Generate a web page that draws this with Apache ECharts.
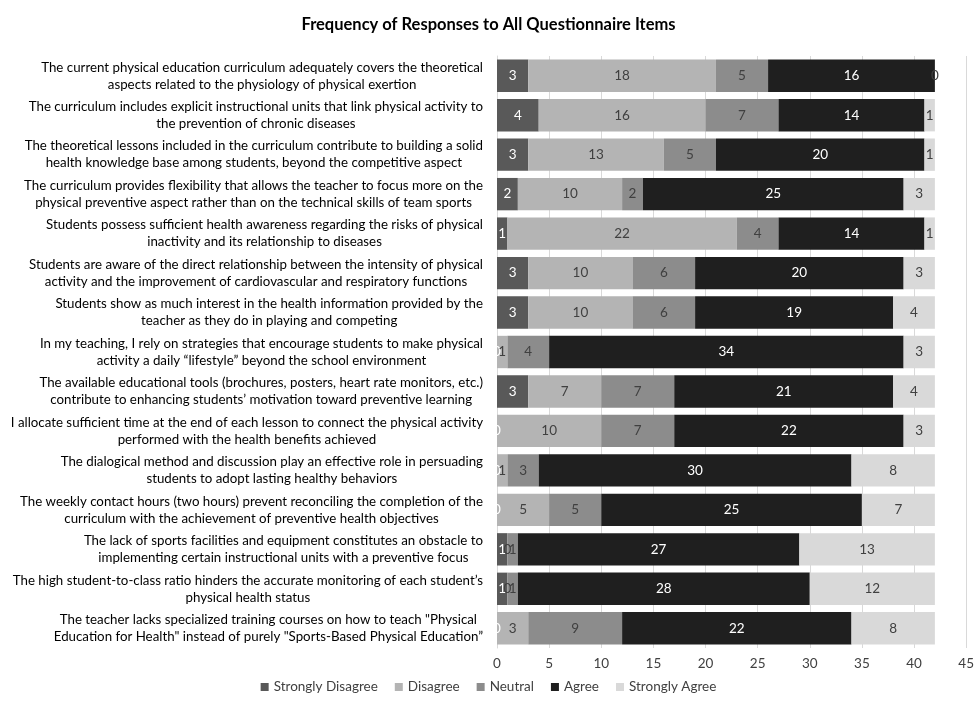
<!DOCTYPE html>
<html>
<head>
<meta charset="utf-8">
<script src="https://cdn.jsdelivr.net/npm/echarts@6/dist/echarts.min.js"></script>
<style>
  html, body { margin: 0; padding: 0; background: #fff; }
  #chart { width: 977px; height: 707px; }
</style>
</head>
<body>
<div id="chart"></div>
<script>
// questionnaire items (top to bottom)
var items = [
  'The current physical education curriculum adequately covers the theoretical\naspects related to the physiology of physical exertion',
  'The curriculum includes explicit instructional units that link physical activity to\nthe prevention of chronic diseases',
  'The theoretical lessons included in the curriculum contribute to building a solid\nhealth knowledge base among students, beyond the competitive aspect',
  'The curriculum provides flexibility that allows the teacher to focus more on the\nphysical preventive aspect rather than on the technical skills of team sports',
  'Students possess sufficient health awareness regarding the risks of physical\ninactivity and its relationship to diseases',
  'Students are aware of the direct relationship between the intensity of physical\nactivity and the improvement of cardiovascular and respiratory functions',
  'Students show as much interest in the health information provided by the\nteacher as they do in playing and competing',
  'In my teaching, I rely on strategies that encourage students to make physical\nactivity a daily \u201clifestyle\u201d beyond the school environment',
  'The available educational tools (brochures, posters, heart rate monitors, etc.)\ncontribute to enhancing students\u2019 motivation toward preventive learning',
  'I allocate sufficient time at the end of each lesson to connect the physical activity\nperformed with the health benefits achieved',
  'The dialogical method and discussion play an effective role in persuading\nstudents to adopt lasting healthy behaviors',
  'The weekly contact hours (two hours) prevent reconciling the completion of the\ncurriculum with the achievement of preventive health objectives',
  'The lack of sports facilities and equipment constitutes an obstacle to\nimplementing certain instructional units with a preventive focus',
  'The high student-to-class ratio hinders the accurate monitoring of each student\u2019s\nphysical health status',
  'The teacher lacks specialized training courses on how to teach "Physical\nEducation for Health" instead of purely "Sports-Based Physical Education\u201d'
];

var strongDisagree = [3, 4, 3, 2, 1, 3, 3, 0, 3, 0, 0, 0, 1, 1, 0];
var disagree       = [18, 16, 13, 10, 22, 10, 10, 1, 7, 10, 1, 5, 0, 0, 3];
var neutral        = [5, 7, 5, 2, 4, 6, 6, 4, 7, 7, 3, 5, 1, 1, 9];
var agree          = [16, 14, 20, 25, 14, 20, 19, 34, 21, 22, 30, 25, 27, 28, 22];
var strongAgree    = [0, 1, 1, 3, 1, 3, 4, 3, 4, 3, 8, 7, 13, 12, 8];

var FONT = 'Lato';

function mk(name, data, color, labelColor) {
  return {
    name: name,
    type: 'bar',
    stack: 'total',
    data: data,
    barCategoryGap: '18%',
    itemStyle: { color: color },
    label: {
      show: true,
      position: 'inside',
      color: labelColor,
      fontFamily: FONT,
      fontSize: 13.5
    }
  };
}

var myChart = echarts.init(document.getElementById('chart'));
var option = {
  backgroundColor: '#fff',
  animation: false,
  title: {
    text: 'Frequency of Responses to All Questionnaire Items',
    left: 'center',
    top: 11,
    textStyle: { fontFamily: FONT, fontSize: 16.5, fontWeight: 'bold', color: '#000' }
  },
  legend: {
    bottom: 8,
    left: 'center',
    icon: 'rect',
    itemWidth: 8,
    itemHeight: 8,
    itemGap: 17,
    textStyle: { fontFamily: FONT, fontSize: 13.5, color: '#404040' }
  },
  grid: { left: 497, right: 3, top: 56, bottom: 59, containLabel: false },
  xAxis: {
    type: 'value',
    min: 0,
    max: 45,
    interval: 5,
    axisLine: { show: false },
    axisTick: { show: false },
    splitLine: { lineStyle: { color: '#d9d9d9', width: 1 } },
    axisLabel: { fontFamily: FONT, fontSize: 13.5, color: '#404040', margin: 9 }
  },
  yAxis: {
    type: 'category',
    inverse: true,
    data: items,
    axisLine: { show: true, lineStyle: { color: '#d9d9d9' } },
    axisTick: { show: false },
    axisLabel: {
      align: 'right',
      margin: 14,
      formatter: function (v) {
        return v.split('\n').map(function (l) { return '{c|' + l + '}'; }).join('\n');
      },
      rich: {
        c: { align: 'center', fontFamily: FONT, fontSize: 13.3, color: '#000', lineHeight: 17 }
      }
    }
  },
  series: [
    mk('Strongly Disagree', strongDisagree, '#595959', '#fff'),
    mk('Disagree', disagree, '#b4b4b4', '#404040'),
    mk('Neutral', neutral, '#8c8c8c', '#404040'),
    mk('Agree', agree, '#1f1f1f', '#fff'),
    mk('Strongly Agree', strongAgree, '#d9d9d9', '#404040')
  ]
};
myChart.setOption(option, true);
</script>
</body>
</html>
